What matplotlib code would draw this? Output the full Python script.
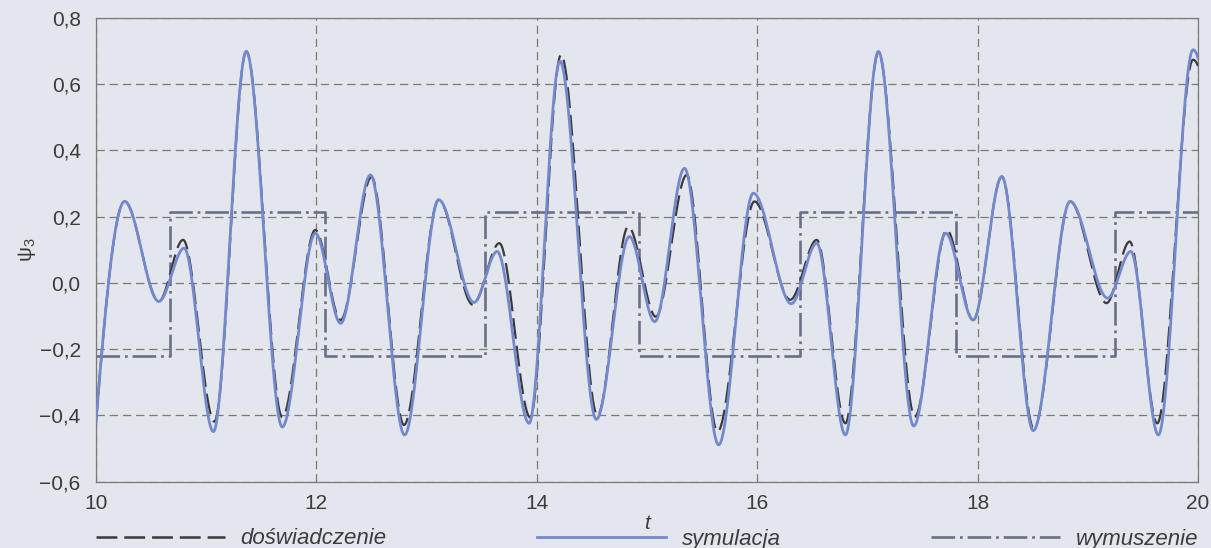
import numpy as np
import matplotlib
matplotlib.use("Agg")
import matplotlib.pyplot as plt
from matplotlib.lines import Line2D

# ---------------- data ----------------
t_sym = [10.00, 10.26, 10.57, 10.80, 11.065, 11.364, 11.69, 11.99, 12.22, 12.49,
         12.80, 13.11, 13.43, 13.64, 13.93, 14.21, 14.54, 14.84, 15.07, 15.34,
         15.65, 15.965, 16.31, 16.54, 16.80, 17.10, 17.42, 17.71, 17.96, 18.22,
         18.505, 18.84, 19.18, 19.39, 19.64, 19.955, 20.00]
v_sym = [-0.42, 0.246, -0.056, 0.105, -0.449, 0.699, -0.435, 0.150, -0.122, 0.326,
         -0.459, 0.251, -0.059, 0.095, -0.424, 0.669, -0.412, 0.140, -0.117, 0.346,
         -0.489, 0.271, -0.063, 0.120, -0.459, 0.699, -0.432, 0.150, -0.112, 0.321,
         -0.446, 0.246, -0.046, 0.095, -0.459, 0.704, 0.68]

t_exp = [10.00, 10.26, 10.57, 10.79, 11.075, 11.364, 11.69, 11.99, 12.22, 12.50,
         12.795, 13.11, 13.42, 13.66, 13.94, 14.22, 14.55, 14.83, 15.08, 15.36,
         15.64, 15.975, 16.30, 16.54, 16.80, 17.10, 17.43, 17.72, 17.96, 18.22,
         18.51, 18.84, 19.17, 19.38, 19.63, 19.955, 20.00]
v_exp = [-0.42, 0.246, -0.056, 0.130, -0.419, 0.699, -0.405, 0.160, -0.112, 0.320,
         -0.429, 0.251, -0.066, 0.120, -0.406, 0.689, -0.400, 0.170, -0.102, 0.326,
         -0.449, 0.246, -0.051, 0.130, -0.424, 0.695, -0.404, 0.160, -0.112, 0.321,
         -0.440, 0.246, -0.061, 0.125, -0.424, 0.674, 0.655]

t_wym = [10.00, 10.672, 12.075, 13.53, 14.93, 16.39, 17.80, 19.25, 20.00]
v_wym = [-0.22, 0.215, -0.22, 0.215, -0.22, 0.215, -0.22, 0.215, 0.215]

xticks = [10, 12, 14, 16, 18, 20]
yticks = [-0.6, -0.4, -0.2, 0.0, 0.2, 0.4, 0.6, 0.8]
ytick_labels = ["\u22120,6", "\u22120,4", "\u22120,2", "0,0", "0,2", "0,4", "0,6", "0,8"]
legend_labels = ["doświadczenie", "symulacja", "wymuszenie"]


def pchip(x, y, xn):
    x = np.asarray(x, float); y = np.asarray(y, float)
    h = np.diff(x); d = np.diff(y) / h
    n = len(x); m = np.zeros(n)
    for k in range(1, n - 1):
        if d[k - 1] * d[k] > 0:
            w1 = 2 * h[k] + h[k - 1]; w2 = h[k] + 2 * h[k - 1]
            m[k] = (w1 + w2) / (w1 / d[k - 1] + w2 / d[k])
    def endslope(h0, h1, d0, d1):
        s = ((2 * h0 + h1) * d0 - h0 * d1) / (h0 + h1)
        if np.sign(s) != np.sign(d0):
            s = 0.0
        elif np.sign(d0) != np.sign(d1) and abs(s) > abs(3 * d0):
            s = 3 * d0
        return s
    m[0] = endslope(h[0], h[1], d[0], d[1])
    m[-1] = endslope(h[-1], h[-2], d[-1], d[-2])
    idx = np.clip(np.searchsorted(x, xn) - 1, 0, n - 2)
    s = (xn - x[idx]) / h[idx]
    h00 = 2 * s**3 - 3 * s**2 + 1; h10 = s**3 - 2 * s**2 + s
    h01 = -2 * s**3 + 3 * s**2; h11 = s**3 - s**2
    return h00 * y[idx] + h10 * h[idx] * m[idx] + h01 * y[idx + 1] + h11 * h[idx] * m[idx + 1]


plt.rcParams['font.family'] = ['Liberation Sans', 'DejaVu Sans']
plt.rcParams['lines.scale_dashes'] = False

BG = '#e4e6ed'
TXT = '#3c3c3c'
C_SYM = '#7389cc'
C_EXP = '#3a3a3a'
C_WYM = '#6a6f88'

fig = plt.figure(figsize=(12.11, 5.48), dpi=100, facecolor=BG)
ax = fig.add_axes([96 / 1211, 1 - 481.6 / 548, 1102 / 1211, 463.6 / 548])
ax.set_facecolor(BG)

tt = np.linspace(10, 20, 3000)
ax.step(t_wym, v_wym, where='post', color=C_WYM, lw=1.9,
        dashes=(17, 3.5, 2, 3.5), zorder=2)
ax.plot(tt, pchip(t_exp, v_exp, tt), color=C_EXP, lw=1.6, dashes=(15, 5), zorder=3)
ax.plot(tt, pchip(t_sym, v_sym, tt), color=C_SYM, lw=2.0, zorder=4)

ax.set_xlim(10, 20)
ax.set_ylim(-0.6, 0.8)
ax.set_xticks(xticks)
ax.set_xticklabels([str(v) for v in xticks])
ax.set_yticks(yticks)
ax.set_yticklabels(ytick_labels)
ax.tick_params(length=0, labelsize=15, labelcolor=TXT)
ax.tick_params(axis='y', pad=11)
ax.tick_params(axis='x', pad=9)
ax.grid(True, color='#7a7a7a', lw=0.9, dashes=(6, 3.5), zorder=1)
for sp in ax.spines.values():
    sp.set_color('#7a7a7a')
    sp.set_linewidth(0.9)

ax.set_xlabel('t', fontsize=15, style='italic', color=TXT)
ax.xaxis.set_label_coords(0.5, -0.07)
ax.set_ylabel(r'$\mathregular{ψ_3}$', fontsize=15, color=TXT, rotation=90)
ax.yaxis.set_label_coords(-0.053, 0.5)

handles = [
    Line2D([], [], color=C_EXP, lw=1.8, dashes=(15, 5)),
    Line2D([], [], color=C_SYM, lw=2.0),
    Line2D([], [], color=C_WYM, lw=1.9, dashes=(17, 3.5, 2, 3.5)),
]
leg = fig.legend(handles, legend_labels, loc='center',
                 bbox_to_anchor=(96 / 1211, 9 / 548, 1102 / 1211, 0.0),
                 mode='expand', ncol=3, frameon=False, borderaxespad=0,
                 borderpad=0, handlelength=5.8, handletextpad=0.7,
                 prop={'size': 16, 'style': 'italic'})
for txt in leg.get_texts():
    txt.set_color(TXT)

fig.savefig('out.png', dpi=100, facecolor=BG)
